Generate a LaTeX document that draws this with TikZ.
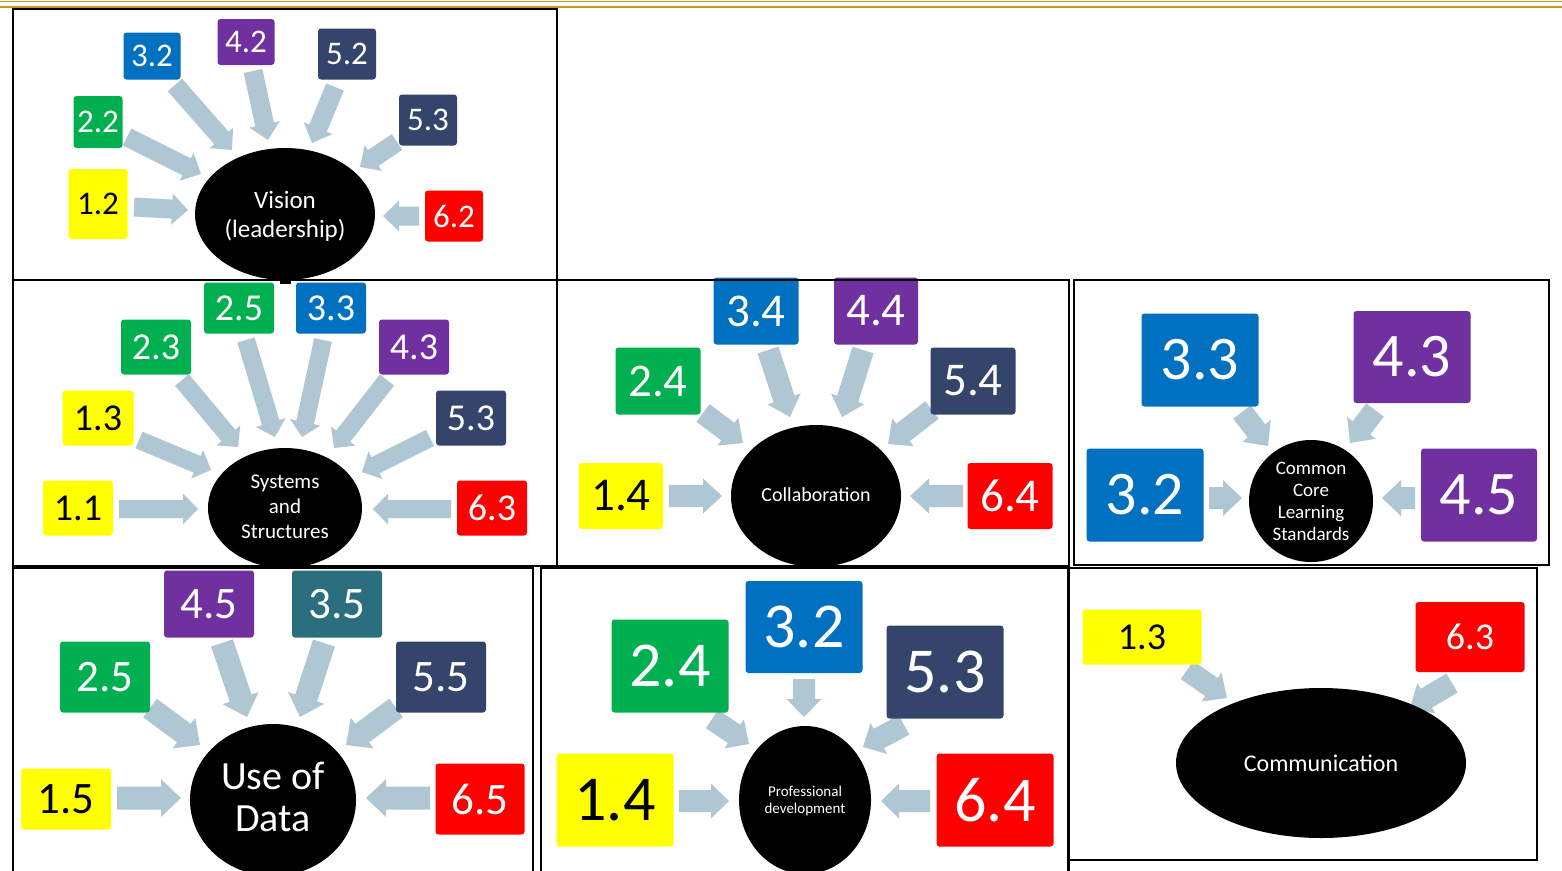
\documentclass[tikz,border=0pt]{standalone}
\usepackage{fontspec}
\setmainfont{Carlito}
\usetikzlibrary{shapes.geometric}
\definecolor{cyel}{HTML}{FFFF00}
\definecolor{cgrn}{HTML}{00B050}
\definecolor{cblu}{HTML}{0070C0}
\definecolor{cpur}{HTML}{7030A0}
\definecolor{cnav}{HTML}{35446B}
\definecolor{cred}{HTML}{FF0000}
\definecolor{ctea}{HTML}{2B6E7D}
\definecolor{carr}{HTML}{AFC7D2}
\definecolor{cgold}{HTML}{C9961A}
\newcommand\fs[1]{\fontsize{#1}{#1}\selectfont}
% fat block arrow: x1 y1 x2 y2 shaft head headlength
\newcommand\fatarr[7]{%
  \pgfmathsetmacro\fang{atan2(#2-#4,#3-#1)}%
  \pgfmathsetmacro\flen{veclen(#3-#1,#4-#2)}%
  \begin{scope}[shift={(#1,#2)},rotate=\fang]
    \fill[carr] (0pt,{-#5/2*1pt}) -- ({(\flen-#7)*1pt},{-#5/2*1pt}) -- ({(\flen-#7)*1pt},{-#6/2*1pt})
      -- ({\flen*1pt},0pt) -- ({(\flen-#7)*1pt},{#6/2*1pt}) -- ({(\flen-#7)*1pt},{#5/2*1pt}) -- (0pt,{#5/2*1pt}) -- cycle;
  \end{scope}}
\tikzset{
  bx/.style={rounded corners=3pt, inner sep=0pt},
  ell/.style={ellipse, fill=black, inner sep=0pt},
  etxt/.style={text=white, align=center, inner sep=0pt},
  pan/.style={draw=black, line width=1.6pt}
}
\newcommand\bx[9]{\node[bx, fill=#6, text=#7, minimum width=#4pt, minimum height=#5pt, font=\fs{#8}] (#1) at (#2,#3) {#9};}
\begin{document}
\begin{tikzpicture}[x=1pt,y=-1pt]
\clip (0,0) rectangle (1562,870);
\fill[white] (0,0) rectangle (1562,870);
% gold rules
\draw[cgold, line width=1.6pt] (0,1.5) -- (1562,1.5);
\draw[cgold, line width=2.3pt] (0,7) -- (1562,7);

% ---------- Panel 1: Vision ----------
\fatarr{134}{207}{188}{210}{19}{31}{16}
\fatarr{127}{137}{201}{174}{19}{31}{16}
\fatarr{175}{85}{232}{150}{19}{31}{16}
\fatarr{253}{71}{268}{140}{19}{31}{16}
\fatarr{335}{87}{312}{143}{19}{31}{16}
\fatarr{397}{142}{360}{167}{19}{31}{16}
\fatarr{419}{216}{383}{216}{19}{31}{16}
\bx{a32}{152}{56}{57}{47}{cblu}{white}{33}{3.2}
\bx{a42}{246}{42}{57}{46}{cpur}{white}{33}{4.2}
\bx{a52}{347}{54}{58}{51}{cnav}{white}{33}{5.2}
\bx{a22}{98}{122}{49}{52}{cgrn}{white}{33}{2.2}
\bx{a53}{428}{120}{58}{51}{cnav}{white}{33}{5.3}
\bx{a12}{98}{204}{59}{70}{cyel}{black}{33}{1.2}
\bx{a62}{454}{216}{58}{51}{cred}{white}{33}{6.2}
\node[ell, minimum width=180pt, minimum height=132pt] (vis) at (285,214) {};
\fill (280,274) rectangle (291,284);
\node[etxt, font=\fontsize{25}{29}\selectfont] (vist) at (285,216) {Vision\\(leadership)};

% ---------- Panel 2: Systems and Structures ----------
\fatarr{119}{509}{198}{509}{18}{31}{15}
\fatarr{139}{440}{211}{470}{18}{31}{15}
\fatarr{182}{380}{238}{447}{18}{31}{15}
\fatarr{246}{340}{275}{437}{18}{31}{15}
\fatarr{323}{340}{302}{437}{18}{31}{15}
\fatarr{387}{380}{334}{448}{18}{31}{15}
\fatarr{430}{438}{362}{472}{18}{31}{15}
\fatarr{451}{509}{373}{509}{18}{31}{15}
\bx{b25}{239}{308}{70}{51}{cgrn}{white}{38}{2.5}
\bx{b33}{331}{308}{70}{51}{cblu}{white}{38}{3.3}
\bx{b23}{156}{347}{70}{55}{cgrn}{white}{38}{2.3}
\bx{b43}{414}{347}{70}{55}{cpur}{white}{38}{4.3}
\bx{b13}{98}{418}{71}{55}{cyel}{black}{38}{1.3}
\bx{b53}{471}{418}{70}{55}{cnav}{white}{38}{5.3}
\bx{b11}{78}{508}{70}{55}{cyel}{black}{38}{1.1}
\bx{b63}{492}{508}{70}{55}{cred}{white}{38}{6.3}
\node[ell, minimum width=154pt, minimum height=120pt] (sys) at (285,508) {};
\node[etxt, font=\fontsize{21}{25}\selectfont] (syst) at (285,507) {Systems\\and\\Structures};

% ---------- Panel 3: Collaboration ----------
\fatarr{669}{496}{722}{496}{22}{35}{19}
\fatarr{703}{413}{743}{443}{22}{35}{19}
\fatarr{768}{350}{790}{417}{22}{35}{19}
\fatarr{863}{350}{842}{417}{22}{35}{19}
\fatarr{932}{410}{888}{444}{22}{35}{19}
\fatarr{963}{496}{910}{496}{22}{35}{19}
\bx{c34}{756}{311}{85}{67}{cblu}{white}{47}{3.4}
\bx{c44}{876}{311}{84}{67}{cpur}{white}{47}{4.4}
\bx{c24}{658}{381}{85}{67}{cgrn}{white}{47}{2.4}
\bx{c54}{973}{381}{85}{67}{cnav}{white}{47}{5.4}
\bx{c14}{621}{496}{84}{66}{cyel}{black}{47}{1.4}
\bx{c64}{1010}{496}{85}{66}{cred}{white}{47}{6.4}
\node[ell, minimum width=170pt, minimum height=142pt] (col) at (816,496) {};
\node[etxt, font=\fs{20}] (colt) at (816,495) {Collaboration};

% ---------- Panel 4: Common Core ----------
\fatarr{1209}{498}{1242}{498}{22}{36}{19}
\fatarr{1242}{412}{1268}{446}{22}{36}{19}
\fatarr{1375}{410}{1350}{443}{22}{36}{19}
\fatarr{1415}{498}{1382}{498}{22}{36}{19}
\bx{d33}{1200}{360}{117}{93}{cblu}{white}{62}{3.3}
\bx{d43}{1412}{357}{117}{92}{cpur}{white}{62}{4.3}
\bx{d32}{1145}{495}{117}{93}{cblu}{white}{62}{3.2}
\bx{d45}{1479}{495}{116}{93}{cpur}{white}{62}{4.5}
\node[ell, minimum width=124pt, minimum height=122pt] (ccl) at (1311,501) {};
\node[etxt, font=\fontsize{19}{22}\selectfont] (cclt) at (1311,501) {Common\\Core\\Learning\\Standards};

% ---------- Panel 5: Use of Data ----------
\fatarr{117}{798}{181}{798}{23}{38}{20}
\fatarr{150}{708}{200}{745}{23}{38}{20}
\fatarr{222}{643}{247}{717}{23}{38}{20}
\fatarr{324}{643}{300}{717}{23}{38}{20}
\fatarr{396}{708}{346}{745}{23}{38}{20}
\fatarr{430}{798}{366}{798}{23}{38}{20}
\bx{e45}{209}{604}{90}{67}{cpur}{white}{45}{4.5}
\bx{e35}{337}{604}{90}{67}{ctea}{white}{45}{3.5}
\bx{e25}{105}{677}{90}{71}{cgrn}{white}{45}{2.5}
\bx{e55}{441}{677}{90}{71}{cnav}{white}{45}{5.5}
\bx{e15}{66}{799}{90}{61}{cyel}{black}{45}{1.5}
\bx{e65}{480}{799}{89}{71}{cred}{white}{45}{6.5}
\node[ell, minimum width=166pt, minimum height=152pt] (uod) at (273,800) {};
\node[etxt, font=\fontsize{40}{42}\selectfont] (uodt) at (273,797) {Use of\\Data};

% ---------- Panel 6: Professional development ----------
\fatarr{679}{801}{729}{801}{22}{35}{18}
\fatarr{712}{719}{749}{744}{22}{35}{18}
\fatarr{804}{679}{804}{717}{22}{35}{18}
\fatarr{904}{725}{863}{747}{22}{35}{18}
\fatarr{930}{801}{881}{801}{22}{35}{18}
\bx{f32}{804}{627}{117}{92}{cblu}{white}{64}{3.2}
\bx{f24}{670}{666}{117}{93}{cgrn}{white}{64}{2.4}
\bx{f53}{945}{672}{117}{93}{cnav}{white}{64}{5.3}
\bx{f14}{615}{800}{117}{93}{cyel}{black}{64}{1.4}
\bx{f64}{995}{800}{117}{93}{cred}{white}{64}{6.4}
\node[ell, minimum width=132pt, minimum height=148pt] (pdv) at (805,800) {};
\node[etxt, font=\fontsize{15}{17}\selectfont] (pdvt) at (805,801) {Professional\\development};

% ---------- Panel 7: Communication ----------
\fatarr{1187}{670}{1227}{698}{22}{35}{19}
\fatarr{1452}{683}{1410}{708}{22}{35}{19}
\bx{g13}{1142}{637}{119}{55}{cyel}{black}{38}{1.3}
\bx{g63}{1470}{637}{109}{70}{cred}{white}{38}{6.3}
\node[ell, minimum width=290pt, minimum height=150pt] (com) at (1321,763) {};
\node[etxt, font=\fs{24}] (comt) at (1321,763) {Communication};

% ---------- panel frames ----------
\draw[pan] (13,9) rectangle (557,280);
\draw[pan] (13,280) rectangle (557,566);
\draw[pan] (557,280) rectangle (1069,566);
\draw[pan] (1074,280) rectangle (1549,565);
\draw[pan] (13,568) rectangle (533,876);
\draw[pan] (541,568) rectangle (1068,876);
\draw[pan] (1069,568) rectangle (1537,860);
\draw[pan] (1069,860) -- (1069,876);
\end{tikzpicture}
\end{document}
